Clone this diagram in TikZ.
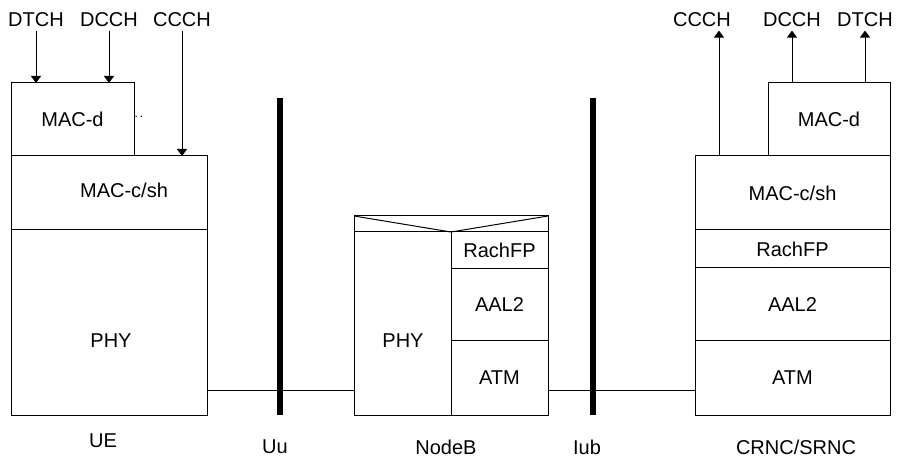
\documentclass[tikz,border=0pt]{standalone}
\usepackage{fontspec}
\setmainfont{Liberation Sans}
\usetikzlibrary{positioning,arrows.meta}

\begin{document}
\begin{tikzpicture}[x=1pt,y=-1pt,line width=1pt,
    font=\fontsize{20}{24}\selectfont,
    layer/.style={draw,anchor=north west,inner sep=0pt,outer sep=0pt},
    chan/.style={inner sep=3pt},
    bar/.style={line width=6pt},
    >={Triangle[width=10pt,length=7pt]}]
       \useasboundingbox (0,0) rectangle (898,457);
       % UE stack
       \node[layer,minimum width=123,minimum height=73] (ue_macd) at (11,83)  {MAC-d};
       \node[layer,minimum width=196,minimum height=74] (ue_mac)  at (ue_macd.south west) {};
       \node[layer,minimum width=196,minimum height=185] (ue_phy) at (ue_mac.south west) {};
       \node (ue_mac_t) at (124,190) {MAC-c/sh};
       \node (ue_phy_t) at (111,341) {PHY};
       \node[font=\fontsize{12}{12}\selectfont] (ue_dots) at (139,117) {.\,.};
       % NodeB stack
       \node[layer,minimum width=194,minimum height=199] (nodeb) at (354,216) {};
       \coordinate (nb_v) at (451,232);
       \node[layer,minimum width=97,minimum height=37] (nb_rach) at (nb_v) {RachFP};
       \node[layer,minimum width=97,minimum height=72] (nb_aal2) at (nb_rach.south west) {AAL2};
       \node[layer,minimum width=97,minimum height=74] (nb_atm)  at (nb_aal2.south west) {ATM};
       \node (nb_phy_t) at (403,341) {PHY};
       \draw (nodeb.north west) -- (nb_v) -- (nodeb.north east);
       \draw (nodeb.west |- nb_v) -- (nb_v) (nb_v) -- (nb_v |- nodeb.south);
       % CRNC/SRNC stack
       \node[layer,minimum width=122,minimum height=73] (rn_macd) at (768,83) {MAC-d};
       \node[layer,minimum width=195,minimum height=74] (rn_mac)  at (695,156) {MAC-c/sh};
       \node[layer,minimum width=195,minimum height=38] (rn_rach) at (rn_mac.south west) {RachFP};
       \node[layer,minimum width=195,minimum height=73] (rn_aal2) at (rn_rach.south west) {AAL2};
       \node[layer,minimum width=195,minimum height=74] (rn_atm)  at (rn_aal2.south west) {ATM};
       % interfaces
       \coordinate (uu_top) at (280,98);
       \coordinate (iub_top) at (593,98);
       \draw[bar] (uu_top) -- (uu_top |- ue_phy.south);
       \draw[bar] (iub_top) -- (iub_top |- nodeb.south);
       \coordinate (link) at (0,391);
       \draw (ue_phy.east |- link) -- (nodeb.west |- link);
       \draw (nodeb.east |- link) -- (rn_atm.west |- link);
       % logical channels
       \node[chan] (ue_dtch) at (36,20)  {DTCH};
       \node[chan] (ue_dcch) at (109,20) {DCCH};
       \node[chan] (ue_ccch) at (182,20) {CCCH};
       \node[chan] (rn_ccch) at (702,20) {CCCH};
       \node[chan] (rn_dcch) at (792,20) {DCCH};
       \node[chan] (rn_dtch) at (865,20) {DTCH};
        \path[->]
        (ue_dtch.south) edge (ue_dtch.south |- ue_macd.north)
        (ue_dcch.south) edge (ue_dcch.south |- ue_macd.north)
        (ue_ccch.south) edge (ue_ccch.south |- ue_mac.north)
        ([xshift=24pt]rn_mac.north west) edge ([xshift=24pt]rn_mac.north west |- rn_ccch.south)
        (rn_dcch.south |- rn_macd.north) edge (rn_dcch.south)
        (rn_dtch.south |- rn_macd.north) edge (rn_dtch.south);
       % entity names
       \node (ue_name)   at (103,441) {UE};
       \node (uu_name)   at (275,447) {Uu};
       \node (nb_name)   at (446,447) {NodeB};
       \node (iub_name)  at (587,447) {Iub};
       \node (rn_name)   at (796,447) {CRNC/SRNC};
    \end{tikzpicture}
\end{document}
